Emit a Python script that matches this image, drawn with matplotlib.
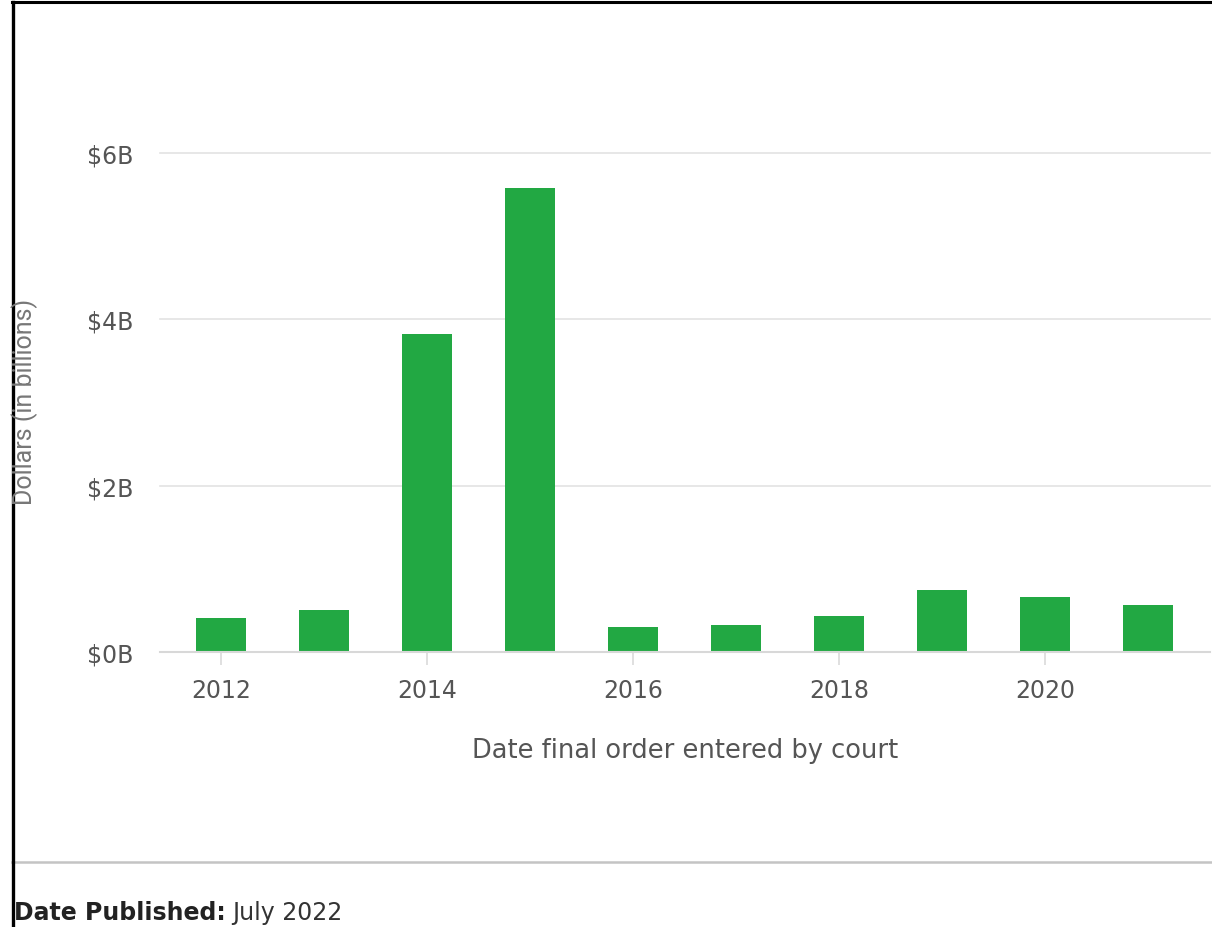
import matplotlib.pyplot as plt
from matplotlib.lines import Line2D

# data (billions of dollars)
years = [2012, 2013, 2014, 2015, 2016, 2017, 2018, 2019, 2020, 2021]
amounts = [0.41, 0.50, 3.82, 5.58, 0.30, 0.33, 0.43, 0.75, 0.66, 0.56]
ytick_vals = [0, 2, 4, 6]
ytick_labels = ['$0B', '$2B', '$4B', '$6B']
xtick_vals = [2012, 2014, 2016, 2018, 2020]

W, H = 1212, 928
fig = plt.figure(figsize=(W / 100, H / 100), dpi=100)
fig.patch.set_facecolor('white')

# axes box in pixels: left 160, right 1210, top 154, bottom 653
ax = fig.add_axes([160 / W, (H - 653) / H, (1210 - 160) / W, (653 - 154) / H])
ax.bar(years, amounts, width=0.48, color='#22a843', zorder=3)
ax.set_xlim(2011.41, 2021.6)
ax.set_ylim(0, 6)

ax.set_yticks(ytick_vals)
ax.set_yticklabels(ytick_labels)
ax.set_xticks(xtick_vals)
ax.set_xticklabels([str(y) for y in xtick_vals])
ax.tick_params(axis='y', length=0, pad=19.5, labelsize=17, labelcolor='#555555')
ax.tick_params(axis='x', length=9, width=1.3, color='#dddddd', pad=10,
               labelsize=17, labelcolor='#555555')

for s in ['top', 'right', 'left']:
    ax.spines[s].set_visible(False)
ax.spines['bottom'].set_color('#d8d8d8')
ax.spines['bottom'].set_linewidth(1.5)
ax.spines['bottom'].set_zorder(4)
ax.grid(axis='y', color='#e3e3e3', linewidth=1.2, zorder=0)
ax.set_axisbelow(True)
for gl in ax.get_ygridlines():
    gl.set_clip_on(False)

ax.set_xlabel('Date final order entered by court', fontsize=18.5,
              color='#555555', labelpad=25)
fig.text(25 / W, 1 - 402 / H, 'Dollars (in billions)', rotation=90,
         ha='center', va='center', fontsize=18, color='#777777',
         family='Roboto')

# separator and footer
fig.add_artist(Line2D([12 / W, 1], [1 - 863 / H, 1 - 863 / H],
                      color='#c4c4c4', linewidth=1.8))
t = fig.text(14 / W, 1 - 913 / H, 'Date Published:', fontsize=17,
             fontweight='bold', color='#222222', va='center')
fig.canvas.draw()
bb = t.get_window_extent()
fig.text(bb.x1 / W + 6 / W, 1 - 913 / H, 'July 2022', fontsize=17,
         color='#333333', va='center')

# black frame on top and left
fig.add_artist(Line2D([12 / W, 1], [1 - 3 / H, 1 - 3 / H],
                      color='black', linewidth=2.2))
fig.add_artist(Line2D([13 / W, 13 / W], [0, 1 - 3 / H],
                      color='black', linewidth=2.4))

fig.savefig('out.png', dpi=100)
